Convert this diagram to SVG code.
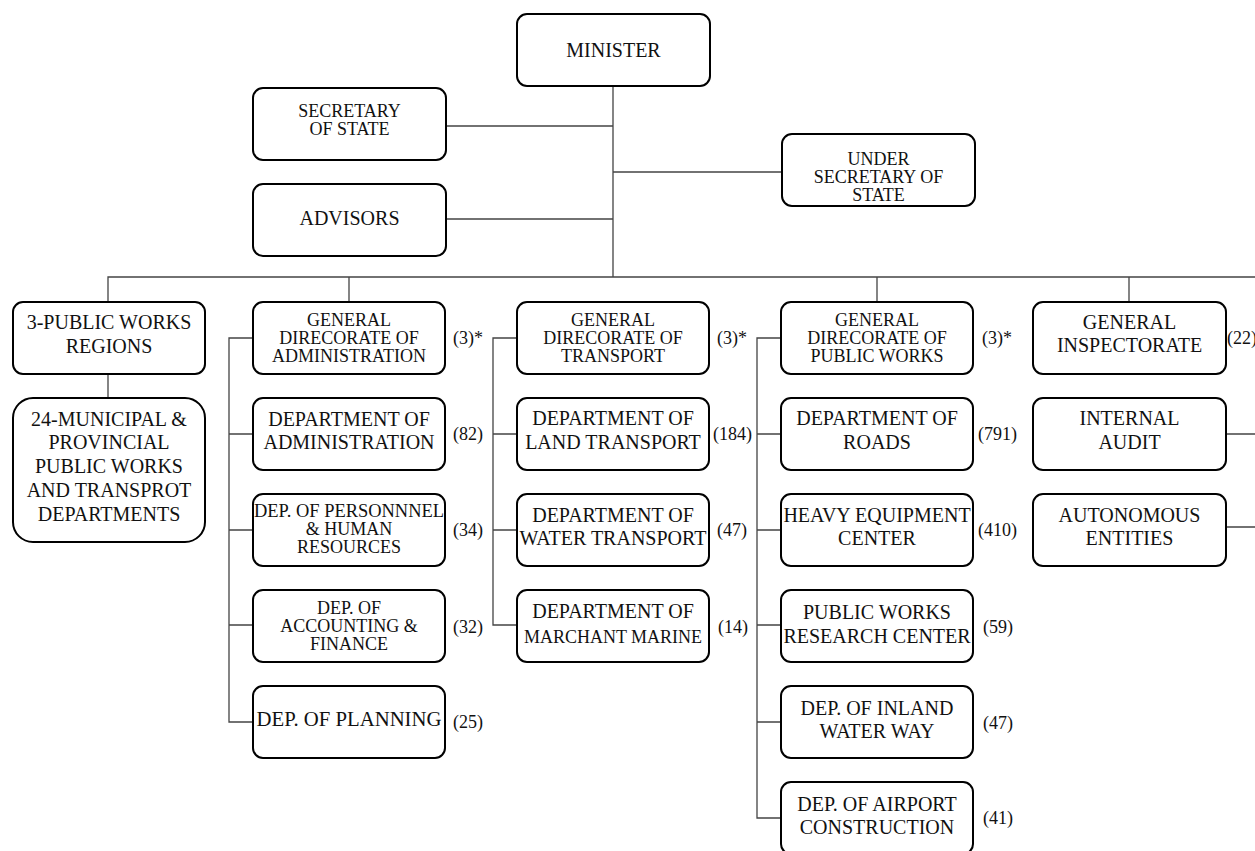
<svg xmlns="http://www.w3.org/2000/svg" width="1255" height="851" viewBox="0 0 1255 851">
<style>
.box{fill:#fff;stroke:#000;stroke-width:2}
text{font-family:'Liberation Serif','Noto Serif','DejaVu Serif',Tinos,FreeSerif,Georgia,serif;fill:#111}
.t{font-size:20px;text-anchor:middle}
.s{font-size:18px}
.c{font-size:18px}
.ln{fill:none;stroke:#444;stroke-width:1.3}
</style>
<rect width="1255" height="851" fill="#fff"/>
<g id="connectors">
<path class="ln" d="M613 86V277M446 126H613M446 219H613M613 172H782"/>
<path class="ln" d="M108 302V277H1255M349 277V302M877 277V302M1129 277V302M108 374V398"/>
<path class="ln" d="M253 338H229V722H253M229 434H253M229 530H253M229 625H253"/>
<path class="ln" d="M517 338H493V625H517M493 434H517M493 530H517"/>
<path class="ln" d="M781 338H757V818H781M757 434H781M757 530H781M757 625H781M757 722H781"/>
<path class="ln" d="M1226 434H1255M1226 527H1255"/>
</g>
<g id="minister"><rect class="box" x="517" y="14" width="193" height="72" rx="10"/><text class="t" x="613.5" y="57">MINISTER</text></g>
<g id="secretary"><rect class="box" x="253" y="88" width="193" height="72" rx="10"/><text class="t s" x="349.5" y="117">SECRETARY</text><text class="t s" x="349.5" y="135">OF STATE</text></g>
<g id="advisors"><rect class="box" x="253" y="184" width="193" height="72" rx="10"/><text class="t" x="349.5" y="225">ADVISORS</text></g>
<g id="under-secretary"><rect class="box" x="782" y="134" width="193" height="72" rx="10"/><text class="t s" x="878.5" y="165">UNDER</text><text class="t s" x="878.5" y="183">SECRETARY OF</text><text class="t s" x="878.5" y="201">STATE</text></g>

<g id="regions"><rect class="box" x="13" y="302" width="192" height="72" rx="10"/><text class="t" x="109" y="329">3-PUBLIC WORKS</text><text class="t" x="109" y="353">REGIONS</text></g>
<g id="municipal"><rect class="box" x="13" y="398" width="192" height="144" rx="20"/><text class="t" x="109" y="426">24-MUNICIPAL &amp;</text><text class="t" x="109" y="449">PROVINCIAL</text><text class="t" x="109" y="473">PUBLIC WORKS</text><text class="t" x="109" y="497">AND TRANSPROT</text><text class="t" x="109" y="521">DEPARTMENTS</text></g>

<g id="gd-admin"><rect class="box" x="253" y="302" width="192" height="72" rx="10"/><text class="t s" x="349" y="326">GENERAL</text><text class="t s" x="349" y="344">DIRECORATE OF</text><text class="t s" x="349" y="362">ADMINISTRATION</text><text class="c" x="453" y="344">(3)*</text></g>
<g id="dep-admin"><rect class="box" x="253" y="398" width="192" height="72" rx="10"/><text class="t" x="349" y="426">DEPARTMENT OF</text><text class="t" x="349" y="449">ADMINISTRATION</text><text class="c" x="453" y="440">(82)</text></g>
<g id="dep-personnel"><rect class="box" x="253" y="494" width="192" height="72" rx="10"/><text class="t s" x="349" y="517" textLength="190" lengthAdjust="spacingAndGlyphs">DEP. OF PERSONNNEL</text><text class="t s" x="349" y="535">&amp; HUMAN</text><text class="t s" x="349" y="553">RESOURCES</text><text class="c" x="453" y="536">(34)</text></g>
<g id="dep-accounting"><rect class="box" x="253" y="590" width="192" height="72" rx="10"/><text class="t s" x="349" y="614">DEP. OF</text><text class="t s" x="349" y="632">ACCOUNTING &amp;</text><text class="t s" x="349" y="650">FINANCE</text><text class="c" x="453" y="633">(32)</text></g>
<g id="dep-planning"><rect class="box" x="253" y="686" width="192" height="72" rx="10"/><text class="t" x="349" y="726" textLength="185" lengthAdjust="spacingAndGlyphs">DEP. OF PLANNING</text><text class="c" x="453" y="728">(25)</text></g>

<g id="gd-transport"><rect class="box" x="517" y="302" width="192" height="72" rx="10"/><text class="t s" x="613" y="326">GENERAL</text><text class="t s" x="613" y="344">DIRECORATE OF</text><text class="t s" x="613" y="362">TRANSPORT</text><text class="c" x="717" y="344">(3)*</text></g>
<g id="dep-land"><rect class="box" x="517" y="398" width="192" height="72" rx="10"/><text class="t" x="613" y="425">DEPARTMENT OF</text><text class="t" x="613" y="449">LAND TRANSPORT</text><text class="c" x="713" y="440">(184)</text></g>
<g id="dep-water"><rect class="box" x="517" y="494" width="192" height="72" rx="10"/><text class="t" x="613" y="522">DEPARTMENT OF</text><text class="t" x="613" y="545">WATER TRANSPORT</text><text class="c" x="717" y="536">(47)</text></g>
<g id="dep-marine"><rect class="box" x="517" y="590" width="192" height="72" rx="10"/><text class="t" x="613" y="618">DEPARTMENT OF</text><text class="t s" x="613" y="643" textLength="178" lengthAdjust="spacingAndGlyphs">MARCHANT MARINE</text><text class="c" x="718" y="633">(14)</text></g>

<g id="gd-publicworks"><rect class="box" x="781" y="302" width="192" height="72" rx="10"/><text class="t s" x="877" y="326">GENERAL</text><text class="t s" x="877" y="344">DIRECORATE OF</text><text class="t s" x="877" y="362">PUBLIC WORKS</text><text class="c" x="982" y="344">(3)*</text></g>
<g id="dep-roads"><rect class="box" x="781" y="398" width="192" height="72" rx="10"/><text class="t" x="877" y="425">DEPARTMENT OF</text><text class="t" x="877" y="449">ROADS</text><text class="c" x="978" y="440">(791)</text></g>
<g id="heavy-equipment"><rect class="box" x="781" y="494" width="192" height="72" rx="10"/><text class="t" x="877" y="522">HEAVY EQUIPMENT</text><text class="t" x="877" y="545">CENTER</text><text class="c" x="978" y="536">(410)</text></g>
<g id="research-center"><rect class="box" x="781" y="590" width="192" height="72" rx="10"/><text class="t" x="877" y="619">PUBLIC WORKS</text><text class="t" x="877" y="643">RESEARCH CENTER</text><text class="c" x="983" y="633">(59)</text></g>
<g id="inland-waterway"><rect class="box" x="781" y="686" width="192" height="72" rx="10"/><text class="t" x="877" y="715">DEP. OF INLAND</text><text class="t" x="877" y="738">WATER WAY</text><text class="c" x="983" y="729">(47)</text></g>
<g id="airport"><rect class="box" x="781" y="782" width="192" height="72" rx="10"/><text class="t" x="877" y="811">DEP. OF AIRPORT</text><text class="t" x="877" y="834">CONSTRUCTION</text><text class="c" x="983" y="824">(41)</text></g>

<g id="inspectorate"><rect class="box" x="1033" y="302" width="193" height="72" rx="10"/><text class="t" x="1129.5" y="329">GENERAL</text><text class="t" x="1129.5" y="352">INSPECTORATE</text><text class="c" x="1227" y="344">(22)</text></g>
<g id="internal-audit"><rect class="box" x="1033" y="398" width="193" height="72" rx="10"/><text class="t" x="1129.5" y="425">INTERNAL</text><text class="t" x="1129.5" y="449">AUDIT</text></g>
<g id="autonomous"><rect class="box" x="1033" y="494" width="193" height="72" rx="10"/><text class="t" x="1129.5" y="522">AUTONOMOUS</text><text class="t" x="1129.5" y="545">ENTITIES</text></g>
</svg>
